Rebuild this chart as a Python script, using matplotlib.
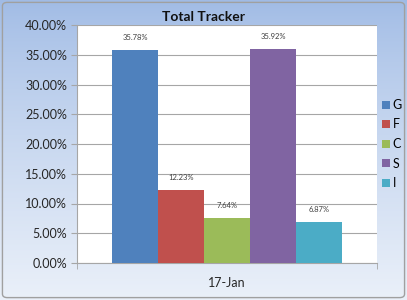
import numpy as np
import matplotlib
matplotlib.use('Agg')
import matplotlib.pyplot as plt
from matplotlib.patches import FancyBboxPatch, Patch
from matplotlib.ticker import FuncFormatter

plt.rcParams['font.family'] = ['Lato', 'DejaVu Sans']

series = ['G', 'F', 'C', 'S', 'I']
values = [35.78, 12.23, 7.64, 35.92, 6.87]
colors = ['#4F81BD', '#C0504D', '#9BBB59', '#8064A2', '#4BACC6']
category = '17-Jan'

fig = plt.figure(figsize=(4.07, 3.0), dpi=100)

# background gradient (Excel 2007 style)
bg = fig.add_axes([0, 0, 1, 1], zorder=-10)
grad = np.linspace(0, 1, 256).reshape(-1, 1)
top = np.array([160, 187, 229]) / 255
bot = np.array([234, 240, 249]) / 255
img = top + (bot - top) * grad[:, :, None] ** 0.8
bg.imshow(img, aspect='auto', extent=[0, 1, 0, 1], origin='upper')
bg.set_xlim(0, 1)
bg.set_ylim(0, 1)
bg.axis('off')
bg.add_patch(FancyBboxPatch((0.006, 0.008), 0.988, 0.984,
                            boxstyle='round,pad=0,rounding_size=0.012',
                            transform=bg.transAxes, fill=False,
                            edgecolor='#a0a0a0', linewidth=1.0))

ax = fig.add_axes([77 / 407, 37 / 300, 300 / 407, 238 / 300])
w = 0.1533
for i, (s, v, c) in enumerate(zip(series, values, colors)):
    x = (i - 2) * w
    ax.bar(x, v, width=w, color=c, label=s, zorder=3)
    ax.text(x, v + 1.5, f'{v:.2f}%', ha='center', va='bottom',
            fontsize=5.5, color='#404040', zorder=4)

ax.set_xlim(-0.5, 0.5)
ax.set_ylim(0, 40)
ax.set_yticks(np.arange(0, 41, 5))
ax.yaxis.set_major_formatter(FuncFormatter(lambda y, p: f'{y:.2f}%'))
ax.grid(axis='y', color='#a6a6a6', linewidth=0.8, zorder=0)
ax.set_xticks([0])
ax.set_xticklabels([category])
ax.set_xticks([-0.5, 0.5], minor=True)
ax.tick_params(axis='x', which='major', length=0, pad=10, labelsize=9, colors='#262626')
ax.tick_params(axis='x', which='minor', length=4, color='#a6a6a6')
ax.tick_params(axis='y', length=4, color='#a6a6a6', labelsize=9, labelcolor='#262626', pad=3)
for side in ['top', 'right']:
    ax.spines[side].set_visible(False)
ax.spines['left'].set_color('#a6a6a6')
ax.spines['bottom'].set_color('#a6a6a6')
ax.set_facecolor('white')

fig.text(203 / 407, 1 - 17 / 300, 'Total Tracker', ha='center', va='center',
         fontsize=10, fontweight='bold', color='#111111')

handles = [Patch(facecolor=c, label=s) for s, c in zip(series, colors)]
fig.legend(handles=handles, loc='center left', bbox_to_anchor=(377 / 407, 1 - 144 / 300),
           frameon=False, fontsize=9, handlelength=0.6, handleheight=0.6,
           handletextpad=0.25, labelspacing=0.6, borderaxespad=0)

fig.savefig('out.png', dpi=100)
